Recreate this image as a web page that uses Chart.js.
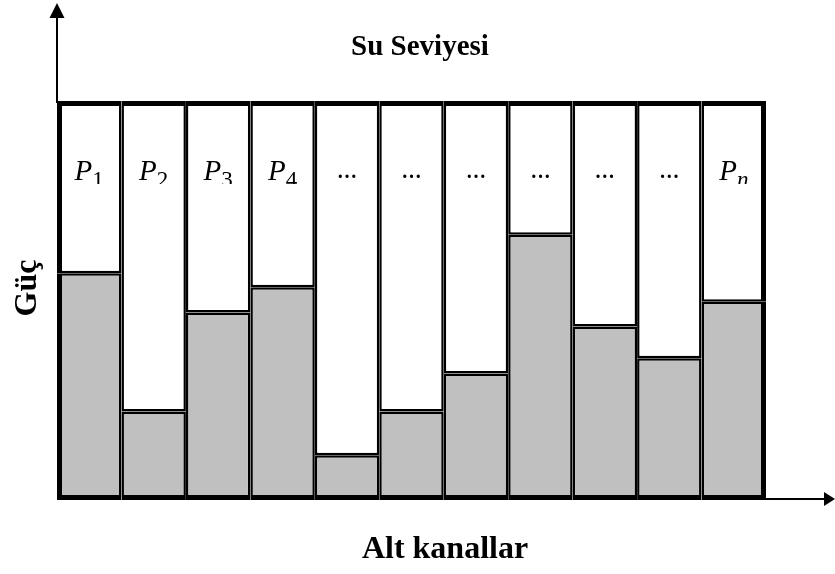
<!DOCTYPE html>
<html>
<head>
<meta charset="utf-8">
<script src="https://cdn.jsdelivr.net/npm/chart.js@4.4.1/dist/chart.umd.min.js"></script>
<style>
  html, body { margin: 0; padding: 0; background: #fff; }
  #wrap { width: 835px; height: 574px; }
</style>
</head>
<body>
<div id="wrap"><canvas id="chart" width="835" height="574"></canvas></div>
<script>
// ---------------- data ----------------
const channels = ['1', '2', '3', '4', '5', '6', '7', '8', '9', '10', '11'];
// grey part of each sub-channel, the water level is the top of the box
const floorLevels = [56.8, 22.2, 47.0, 53.3, 11.2, 22.2, 31.7, 66.5, 43.5, 35.5, 49.7];
const waterLevel = 100;
const labelMain = ['P', 'P', 'P', 'P', '…', '…', '…', '…', '…', '…', 'P'];
const labelSub = ['1', '2', '3', '4', '', '', '', '', '', '', 'n'];
const titleText = 'Su Seviyesi';
const yTitle = 'Güç';
const xTitle = 'Alt kanallar';

const powerLevels = floorLevels.map(v => waterLevel - v);
const lastIdx = channels.length - 1;

// ---------------- arrows, labels, titles ----------------
const decorPlugin = {
    id: 'decor',
    afterDraw(chart) {
        const { ctx, chartArea: a, scales: { x } } = chart;
        ctx.save();
        ctx.strokeStyle = '#000';
        ctx.fillStyle = '#000';
        ctx.lineWidth = 2;

        // vertical axis arrow
        ctx.beginPath();
        ctx.moveTo(a.left, a.top + 2);
        ctx.lineTo(a.left, 16);
        ctx.stroke();
        ctx.beginPath();
        ctx.moveTo(a.left, 3);
        ctx.lineTo(a.left - 7.5, 18);
        ctx.lineTo(a.left + 7.5, 18);
        ctx.closePath();
        ctx.fill();

        // horizontal axis arrow
        const ay = a.bottom - 1;
        ctx.beginPath();
        ctx.moveTo(a.right - 2, ay);
        ctx.lineTo(chart.width - 8, ay);
        ctx.stroke();
        ctx.beginPath();
        ctx.moveTo(chart.width, ay);
        ctx.lineTo(chart.width - 11, ay - 7);
        ctx.lineTo(chart.width - 11, ay + 7);
        ctx.closePath();
        ctx.fill();

        // P_i labels (bottom of the subscripts is cut like in the original)
        ctx.save();
        ctx.beginPath();
        ctx.rect(a.left, a.top, a.right - a.left, 83);
        ctx.clip();
        labelMain.forEach((m, i) => {
            const cx = x.getPixelForValue(i);
            ctx.textBaseline = 'alphabetic';
            if (m === 'P') {
                ctx.font = 'italic 29px "Liberation Serif"';
                const wm = ctx.measureText(m).width;
                const subFont = (labelSub[i] === 'n' ? 'italic ' : '') + '23px "Liberation Serif"';
                ctx.font = subFont;
                const ws = ctx.measureText(labelSub[i]).width;
                const start = cx - (wm + ws) / 2;
                ctx.textAlign = 'left';
                ctx.font = 'italic 29px "Liberation Serif"';
                ctx.fillText(m, start, a.top + 79);
                ctx.font = subFont;
                ctx.fillText(labelSub[i], start + wm, a.top + 86);
            } else {
                ctx.font = 'bold 20px "Liberation Serif"';
                ctx.textAlign = 'center';
                ctx.fillText(m, cx, a.top + 77);
            }
        });
        ctx.restore();

        // titles
        ctx.textAlign = 'center';
        ctx.textBaseline = 'middle';
        ctx.font = 'bold 29px "Liberation Serif"';
        ctx.fillText(titleText, 420, 48);

        ctx.font = 'bold 32px "Liberation Serif"';
        ctx.fillText(xTitle, 445, 550);

        ctx.translate(28, 288);
        ctx.rotate(-Math.PI / 2);
        ctx.font = 'bold 32px "Liberation Serif"';
        ctx.fillText(yTitle, 0, 0);
        ctx.restore();
    }
};

new Chart(document.getElementById('chart').getContext('2d'), {
    type: 'bar',
    data: {
        labels: channels,
        datasets: [{
            label: 'floor',
            data: floorLevels,
            backgroundColor: '#c0c0c0',
            borderColor: '#000',
            borderSkipped: false,
            inflateAmount: 0,
            borderWidth: (c) => ({
                top: 2.5,
                bottom: 5,
                left: c.dataIndex === 0 ? 5 : 2.5,
                right: c.dataIndex === lastIdx ? 5 : 2.5
            })
        }, {
            label: 'power',
            data: powerLevels,
            backgroundColor: '#fff',
            borderColor: '#000',
            borderSkipped: false,
            inflateAmount: 0,
            borderWidth: (c) => ({
                top: 5,
                bottom: 2.5,
                left: c.dataIndex === 0 ? 5 : 2.5,
                right: c.dataIndex === lastIdx ? 5 : 2.5
            })
        }]
    },
    options: {
        responsive: false,
        animation: false,
        events: [],
        layout: { padding: { left: 57, right: 69, top: 101, bottom: 74 } },
        datasets: { bar: { barPercentage: 1, categoryPercentage: 1 } },
        scales: {
            x: { stacked: true, display: false, offset: true },
            y: { stacked: true, display: false, min: 0, max: waterLevel }
        },
        plugins: {
            legend: { display: false },
            tooltip: { enabled: false }
        }
    },
    plugins: [decorPlugin]
});
</script>
</body>
</html>
